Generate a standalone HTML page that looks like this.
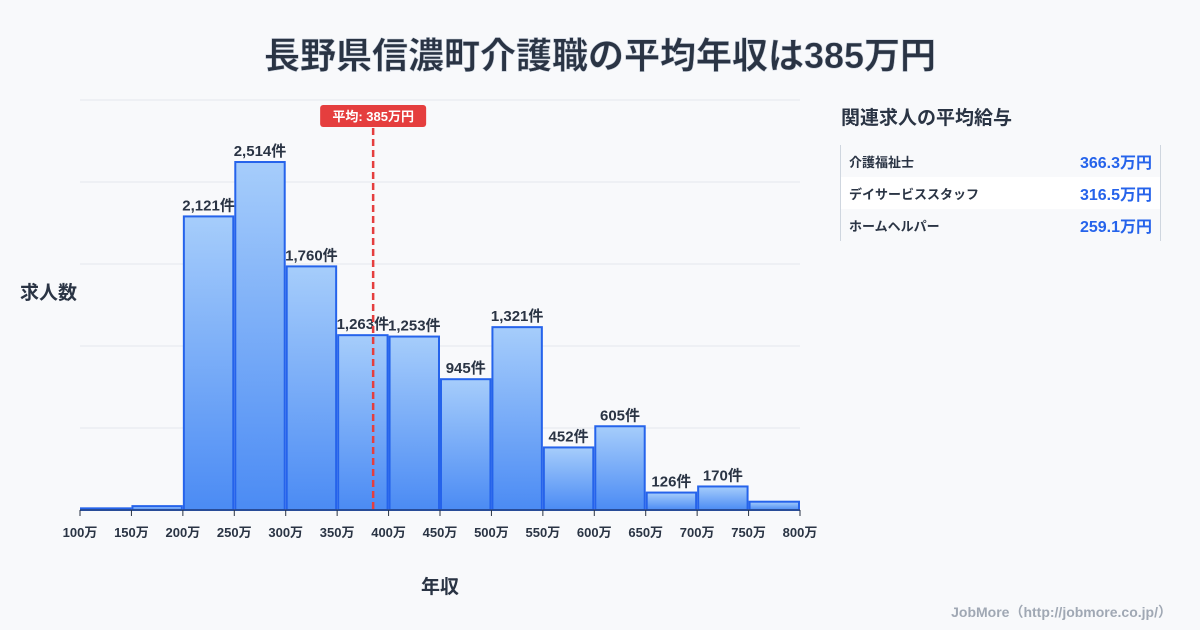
<!DOCTYPE html>
<html><head><meta charset="utf-8"><style>
body{margin:0;background:#f8f9fb;font-family:"Liberation Sans","Noto Sans CJK JP",sans-serif;}
#wrap{position:relative;width:1200px;height:630px;overflow:hidden;}
</style></head><body>
<div id="wrap">
<svg id="chart" width="1200" height="630" style="position:absolute;left:0;top:0">
<defs><linearGradient id="g" x1="0" y1="0" x2="0" y2="1"><stop offset="0" stop-color="#a6cdfb"/><stop offset="1" stop-color="#4b8bf4"/></linearGradient></defs>
</svg>
<div style="position:absolute;left:841px;top:103px;font-size:19px;font-weight:bold;color:#2a3444">関連求人の平均給与</div>
<div style="position:absolute;left:840px;top:145px;width:319px;height:96px;border-left:1px solid #cfd6df;border-right:1px solid #cfd6df;font-size:13px;font-weight:bold;color:#2a3444">
 <div style="height:32px;display:flex;justify-content:space-between;align-items:center;padding:0 8px"><span>介護福祉士</span><span style="color:#2563eb;font-size:16px">366.3万円</span></div>
 <div style="height:32px;display:flex;justify-content:space-between;align-items:center;padding:0 8px;background:#fff"><span>デイサービススタッフ</span><span style="color:#2563eb;font-size:16px">316.5万円</span></div>
 <div style="height:32px;display:flex;justify-content:space-between;align-items:center;padding:0 8px"><span>ホームヘルパー</span><span style="color:#2563eb;font-size:16px">259.1万円</span></div>
</div>
</div>
<script>
const categories=["100万","150万","200万","250万","300万","350万","400万","450万","500万","550万","600万","650万","700万","750万"];
const counts=[12,28,2121,2514,1760,1263,1253,945,1321,452,605,126,170,60];
const showLabel=[false,false,true,true,true,true,true,true,true,true,true,true,true,false];
const tickLabels=["100万","150万","200万","250万","300万","350万","400万","450万","500万","550万","600万","650万","700万","750万","800万"];
const average=385;
const NS="http://www.w3.org/2000/svg";
const svg=document.getElementById('chart');
const X0=80,X1=800,XMIN=100,XMAX=800,Y0=510,YTOP=100,YMAX=2962;
const xs=v=>X0+(v-XMIN)/(XMAX-XMIN)*(X1-X0);
const ys=v=>Y0-v/YMAX*(Y0-YTOP);
function mk(t,a,txt){const e=document.createElementNS(NS,t);for(const k in a)e.setAttribute(k,a[k]);if(txt!=null)e.textContent=txt;svg.appendChild(e);return e;}
for(let i=0;i<=5;i++){const y=Y0-i*(Y0-YTOP)/5;const l=mk('line',{x1:X0,x2:X1,y1:y,y2:y,stroke:'#e3e7ec','stroke-width':1});

}
const t=mk('text',{x:600,y:68,'text-anchor':'middle','font-size':36,'font-weight':'bold',fill:'#2a3444',stroke:'#c8d0dc','stroke-width':0.5},'長野県信濃町介護職の平均年収は385万円');


const bw=(X1-X0)/categories.length;
counts.forEach((c,i)=>{const x=xs(100+i*50)+1,y=ys(c);
const r=mk('rect',{x:x,y:y,width:bw-2,height:Y0-y,fill:'url(#g)',stroke:'#2563eb','stroke-width':2});


if(showLabel[i]){const l=mk('text',{x:x+bw/2-1,y:y-6,'text-anchor':'middle','font-size':15,'font-weight':'bold',fill:'#2a3444'},c.toLocaleString('en-US')+'件');

}});
const ax=mk('line',{x1:X0,x2:X1,y1:Y0,y2:Y0,stroke:'#2a3444','stroke-width':1});


tickLabels.forEach((s,i)=>{const x=xs(100+i*50);
const tk=mk('line',{x1:x,x2:x,y1:Y0,y2:Y0+6,stroke:'#2a3444'});


const tl=mk('text',{x:x,y:537,'text-anchor':'middle','font-size':13,'font-weight':'bold',fill:'#2a3444'},s);

});
const ax2=xs(average);
const al=mk('line',{x1:ax2,x2:ax2,y1:128,y2:Y0,stroke:'#e53e3e','stroke-width':2.5,'stroke-dasharray':'7,4'});


const ab=mk('rect',{x:ax2-53,y:105,width:106,height:22,rx:3,fill:'#e53e3e'});


const at=mk('text',{x:ax2,y:121,'text-anchor':'middle','font-size':13,'font-weight':'bold',fill:'#fff'},'平均: '+average+'万円');


const yt=mk('text',{x:20,y:299,'font-size':19,'font-weight':'bold',fill:'#2a3444'},'求人数');


const xt=mk('text',{x:440,y:593,'text-anchor':'middle','font-size':19,'font-weight':'bold',fill:'#2a3444'},'年収');


const cr=mk('text',{x:1172,y:617,'text-anchor':'end','font-size':14,'font-weight':'bold',fill:'#a0a8b4'},'JobMore（http://jobmore.co.jp/）');


</script>
</body></html>
